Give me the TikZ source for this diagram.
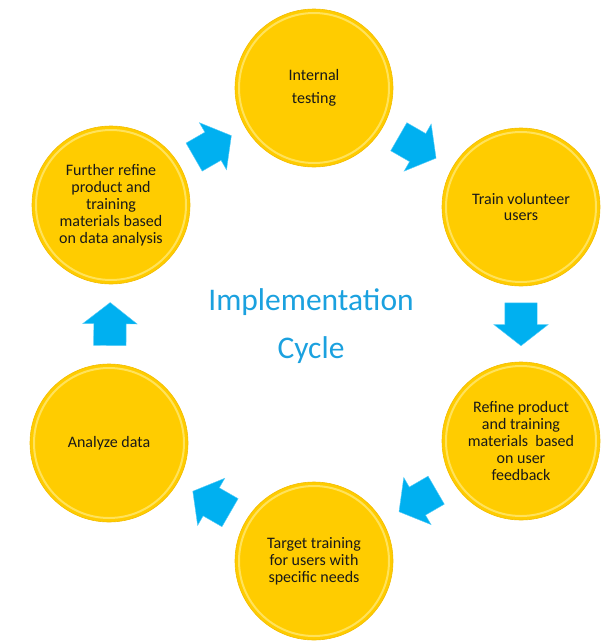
\documentclass[tikz,border=0pt]{standalone}
\usepackage{fontspec}
\setmainfont{Carlito}
\usetikzlibrary{shapes.arrows}

\definecolor{stagegold}{RGB}{255,204,0}
\definecolor{stagerim}{RGB}{255,236,130}
\definecolor{stageedge}{RGB}{242,188,0}
\definecolor{flowblue}{RGB}{0,176,240}
\definecolor{flowlight}{RGB}{90,205,248}
\definecolor{titleblue}{RGB}{27,161,223}

\tikzset{
  stage/.style={circle, minimum size=158pt, inner sep=0pt, fill=stagegold,
    draw=stageedge, line width=0.6pt, align=center, text=black!90,
    font=\fontsize{16}{17}\selectfont,
    path picture={\draw[stagerim, line width=2pt, opacity=0.7]
      (path picture bounding box.center) circle (75pt);}},
  flow/.style={single arrow, fill=flowblue, draw=flowlight, line width=0.4pt,
    inner xsep=0pt, inner ysep=16pt, minimum height=43pt, minimum width=54pt,
    single arrow head extend=11pt, single arrow tip angle=104,
    pos=0.42, sloped, allow upside down},
}

\begin{document}
\begin{tikzpicture}[x=1pt,y=-1pt]
    \useasboundingbox (0,0) rectangle (609,643);

    % the six stages, clockwise from the top
    \node[stage] (testing) at (314,88) {Internal\\[6pt]testing};
    \node[stage] (train) at (521,207) {Train volunteer\\users};
    \node[stage] (refine) at (521,441) {Refine product\\and training\\materials\ \ based\\on user\\feedback};
    \node[stage] (target) at (314,561) {Target training\\for users with\\specific needs};
    \node[stage] (analyze) at (109,443) {Analyze data};
    \node[stage] (further) at (111,205) {Further refine\\product and\\training\\materials based\\on data analysis};

    \node[font=\fontsize{31.5}{48}\selectfont, text=titleblue, align=center]
        (cycle) at (311,326) {Implementation\\Cycle};

    \path (further) -- node[flow] {} (testing);
    \path (testing) -- node[flow] {} (train);
    \path (train) -- node[flow] {} (refine);
    \path (refine) -- node[flow] {} (target);
    \path (target) -- node[flow] {} (analyze);
    \path (analyze) -- node[flow] {} (further);

\end{tikzpicture}
\end{document}
